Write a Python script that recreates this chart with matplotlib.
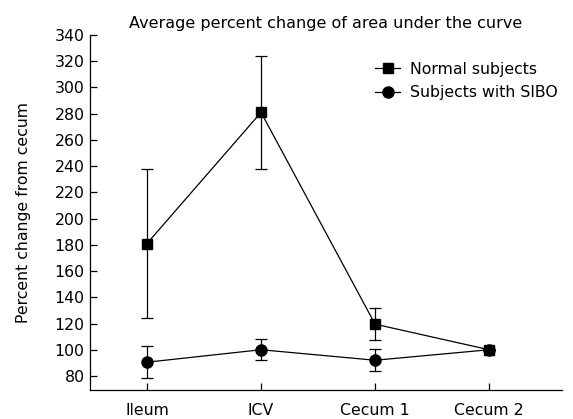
import matplotlib
matplotlib.use("Agg")
import matplotlib.pyplot as plt
from matplotlib.lines import Line2D

categories = ["Ileum", "ICV", "Cecum 1", "Cecum 2"]
normal = [181, 281, 119.5, 100]
normal_err_low = [57, 43, 12, 0]
normal_err_high = [57, 43, 12, 0]
sibo = [90.5, 100, 92, 100]
sibo_err_low = [12, 8, 8.5, 0]
sibo_err_high = [12, 8, 8.5, 0]
yticks = list(range(80, 341, 20))

plt.rcParams['font.family'] = ['DejaVu Sans']
fig = plt.figure(figsize=(5.73, 4.19), dpi=100)
ax = fig.add_axes([0.157, 0.0692, 0.824, 0.8473])

x = list(range(len(categories)))
ax.errorbar(x, normal, yerr=[normal_err_low, normal_err_high], color='black',
            marker='s', markersize=7, linewidth=0.9, elinewidth=0.9,
            capsize=4, capthick=0.9)
ax.errorbar(x, sibo, yerr=[sibo_err_low, sibo_err_high], color='black',
            marker='o', markersize=8, linewidth=0.9, elinewidth=0.9,
            capsize=4, capthick=0.9)

handles = [Line2D([], [], color='black', marker='s', markersize=7, linewidth=0.9),
           Line2D([], [], color='black', marker='o', markersize=8, linewidth=0.9)]
labels = ['Normal subjects', 'Subjects with SIBO']

ax.set_xlim(-0.5, 3.64)
ax.set_ylim(69.3, 340)
ax.set_xticks(x)
ax.set_xticklabels(categories)
ax.set_yticks(yticks)
ax.tick_params(axis='both', direction='in', labelsize=11.3, length=5, width=0.9)
ax.tick_params(axis='x', pad=9)
ax.tick_params(axis='y', pad=4)
ax.spines['top'].set_visible(False)
ax.spines['right'].set_visible(False)
for s in ('left', 'bottom'):
    ax.spines[s].set_linewidth(0.9)
ax.set_ylabel('Percent change from cecum', fontsize=11.3, labelpad=17)
ax.set_title('Average percent change of area under the curve', fontsize=11.5, pad=5)
ax.legend(handles, labels, loc='upper right', bbox_to_anchor=(1.02, 0.965), frameon=False,
          fontsize=11.3, handlelength=1.6, labelspacing=0.55, handletextpad=0.6)
fig.savefig('out.png', dpi=100)
